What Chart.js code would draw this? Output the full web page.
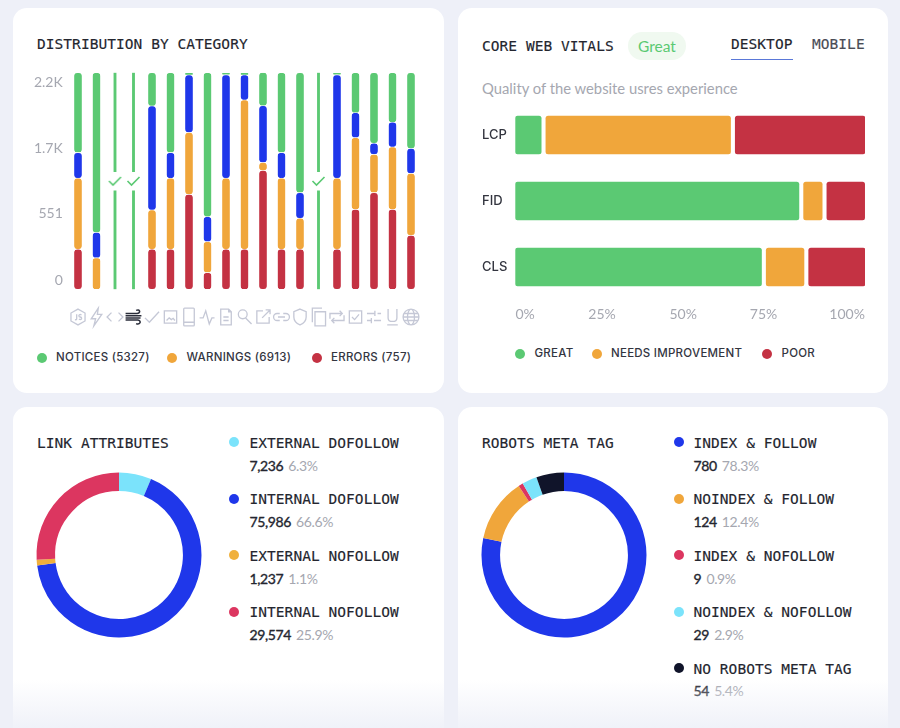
<!DOCTYPE html>
<html>
<head>
<meta charset="utf-8">
<script src="https://cdn.jsdelivr.net/npm/chart.js@4"></script>
<style>
html, body { margin: 0; padding: 0; }
body { width: 900px; height: 728px; overflow: hidden; position: relative; background: #eef0f8; font-family: Lato, sans-serif; }
.card { position: absolute; background: #fff; border-radius: 14px; }
canvas { position: absolute; }
.abs { position: absolute; white-space: nowrap; line-height: 1; }
.mono { font-family: "DejaVu Sans Mono", monospace; font-size: 14.5px; letter-spacing: 0.05px; -webkit-text-stroke: 0.15px; color: #24262f; transform: translateY(-50%); }
.dot { position: absolute; border-radius: 50%; width: 10px; height: 10px; transform: translate(-50%, -50%); }
.small { font-family: Inter, sans-serif; font-size: 11.5px; font-weight: 500; letter-spacing: 0.25px; color: #33353f; transform: translateY(-50%); }
.num { font-size: 14px; letter-spacing: -0.4px; -webkit-text-stroke: 0.35px; color: #24262f; transform: translateY(-50%); }
.num span { color: #a5a7b0; -webkit-text-stroke: 0; margin-left: 2px; }
#fade { position: absolute; left: 0; top: 680px; width: 900px; height: 48px; background: linear-gradient(rgba(238,240,248,0), rgba(238,240,248,0.9)); }
</style>
</head>
<body>
<div class="card" style="left:13px;top:8px;width:431px;height:385px"></div>
<div class="card" style="left:458px;top:8px;width:430px;height:385px"></div>
<div class="card" style="left:13px;top:407px;width:431px;height:340px"></div>
<div class="card" style="left:458px;top:407px;width:430px;height:340px"></div>

<div class="abs mono" style="left:37px;top:43.5px">DISTRIBUTION BY CATEGORY</div>
<div class="abs mono" style="left:482px;top:46px">CORE WEB VITALS</div>
<div class="abs" style="left:628px;top:31.5px;width:58px;height:28px;border-radius:14px;background:#f0f9f0;color:#5bc973;font-size:15.5px;line-height:28px;text-align:center">Great</div>
<div class="abs mono" style="left:731px;top:43.5px">DESKTOP</div>
<div class="abs mono" style="left:812px;top:43.5px;color:#4a4c56">MOBILE</div>
<div class="abs" style="left:731px;top:59px;width:62px;height:1px;background:#5a78d8"></div>
<div class="abs" style="left:482px;top:88px;font-size:14.8px;color:#a5a7b0;transform:translateY(-50%)">Quality of the website usres experience</div>
<div class="abs mono" style="left:37px;top:443px">LINK ATTRIBUTES</div>
<div class="abs mono" style="left:482px;top:443px">ROBOTS META TAG</div>

<canvas id="categoryChart" width="431" height="280" style="left:13px;top:60px"></canvas>
<canvas id="vitalsChart" width="430" height="250" style="left:458px;top:90px"></canvas>
<canvas id="linksChart" width="170" height="170" style="left:34px;top:470px"></canvas>
<canvas id="robotsChart" width="170" height="170" style="left:479px;top:470px"></canvas>
<div id="legends"></div>
<div id="fade"></div>

<script>
// column heights as share of the plot height
const CATEGORY_TICKS = ["0", "551", "1.7K", "2.2K"];
const CATEGORY_TICK_POS = [4.3, 34.8, 65.2, 95.7];
const ERRORS =   [18.5, 0, 0, 0, 18.5, 18.5, 43.8, 7.7, 18.5, 18.5, 54.8, 18.5, 18.5, 0, 18.5, 36.9, 44.6, 36.9, 24.9];
const WARNINGS = [32.8, 14.5, 0, 0, 18.1, 32.8, 28.6, 14.3, 32.8, 68.9, 3.7, 32.8, 14.3, 0, 32.8, 33.1, 17.7, 28.8, 28.6];
const OTHERS =   [11.8, 11.7, 0, 0, 48, 11.8, 26.5, 11.5, 47.7, 11.5, 26.2, 11.8, 11.8, 0, 47.7, 11.5, 5.1, 11.4, 11.5];
const NOTICES =  [36.9, 73.8, 0, 0, 15.4, 36.9, 1.1, 66.5, 1, 1.1, 15.4, 36.9, 55.4, 0, 1, 18.5, 32.6, 22.9, 35];
const PASSED_COLUMNS = [2, 3, 13];
const PASSED_LOWER = [0, 45.5];
const PASSED_UPPER = [54.3, 100];
const PASSED_MARK = 50;
const CATEGORY_LEGEND = [["NOTICES (5327)", 41.7, 56, "#5bc973"], ["WARNINGS (6913)", 172, 186.5, "#f0a63b"], ["ERRORS (757)", 316.7, 331, "#c43243"]];

const VITALS = ["LCP", "FID", "CLS"];
const VITALS_GREAT = [7.4, 81.1, 70.4];
const VITALS_NEEDS = [52.8, 5.3, 10.8];
const VITALS_POOR = [37.1, 10.8, 16.2];
const VITALS_TICKS = ["0%", "25%", "50%", "75%", "100%"];
const VITALS_TICK_POS = [2.8, 24.8, 48, 71, 94.9];
const VITALS_LEGEND = [["GREAT", 520, 534.5, "#5bc973"], ["NEEDS IMPROVEMENT", 596.7, 611, "#f0a63b"], ["POOR", 767, 781.5, "#c43243"]];

const LINK_LABELS = ["EXTERNAL DOFOLLOW", "INTERNAL DOFOLLOW", "EXTERNAL NOFOLLOW", "INTERNAL NOFOLLOW"];
const LINK_VALUES = [7236, 75986, 1237, 29574];
const LINK_SHARES = ["6.3%", "66.6%", "1.1%", "25.9%"];
const LINK_COLORS = ["#7be3fb", "#1f37ea", "#f0b03c", "#dc3660"];

const ROBOT_LABELS = ["INDEX & FOLLOW", "NOINDEX & FOLLOW", "INDEX & NOFOLLOW", "NOINDEX & NOFOLLOW", "NO ROBOTS META TAG"];
const ROBOT_VALUES = [780, 124, 9, 29, 54];
const ROBOT_SHARES = ["78.3%", "12.4%", "0.9%", "2.9%", "5.4%"];
const ROBOT_COLORS = ["#1f37ea", "#f0a63b", "#dc3660", "#7be3fb", "#10142a"];

const ICONS = [
    "M0-9L8-4.5V4.5L0 9L-8 4.5V-4.5Z M-1.5-3V2Q-1.5 3.5-3.5 3 M4-2.5Q1.5-3.5 1-1.5Q1 0 2.5 0Q4.5 .5 4 2Q3 3.5 1 2.5",
    "M2-10L-6 2H-1L-3 10L6-3H1Z",
    "M-4-5L-9 0L-4 5 M4-5L9 0L4 5",
    "M-9-4H4Q7-4 7-6.500Q6-9 3-7.500 M-9-1.500H9 M-9 1H8 M-9 3.500H5Q8 4 7.500 6.500Q6 9 3 7.500",
    "M-8 1L-3 6L8-6",
    "M-7-7H7V7H-7Z M-4.500 4L-1.500 1L1 3L3 1.500L5 4",
    "M-5-10H5Q6-10 6-9V9Q6 10 5 10H-5Q-6 10-6 9V-9Q-6-10-5-10Z M-6 6H6",
    "M-9 1H-5L-2-7L2 8L5 1H8",
    "M-6-9H3L6-6V9H-6Z M3-9V-6H6 M-3 0H3 M-3 4H3",
    "M3-3A5 5 0 1 1-7-3A5 5 0 1 1 3-3 M1.500 1.500L8 8",
    "M0-7H-7V7H7V0 M-1 1L8-8 M3-8H8V-3",
    "M-2-4H-5A4 4 0 0 0-5 4H-2 M2-4H5A4 4 0 0 1 5 4H2 M-4 0H4",
    "M0-9L7-6V0Q7 6 0 9Q-7 6-7 0V-6Z",
    "M-7 6V-10H4 M-4-6H8V10H-4Z",
    "M-8 2V-4H6 M3-7L6-4L3-1 M8-2V4H-6 M-3 7L-6 4L-3 1",
    "M-7-7H7V7H-7Z M-4 0L-1 3L4-3",
    "M-8-4H1 M4-4H8 M1-7V-1 M-8 4H-3 M0 4H8 M-3 1V7",
    "M-5-9V1Q-5 5 0 5Q5 5 5 1V-9 M-6 9H6",
    "M9 0A9 9 0 1 1-9 0A9 9 0 1 1 9 0 M4 0A4 9 0 1 1-4 0A4 9 0 1 1 4 0 M-9 0H9 M-8-4H8 M-8 4H8"
];
const DARK_ICON = 3;

const TICK_FONT = { family: "Lato, sans-serif", size: 14 };
const TICK_COLOR = "#a5a7b0";

const makeCheckMark = () => {
    const mark = document.createElement("canvas");
    mark.width = 15;
    mark.height = 12;
    const ctx = mark.getContext("2d");
    ctx.strokeStyle = "#5bc973";
    ctx.lineWidth = 1.6;
    ctx.beginPath();
    ctx.moveTo(1.5, 6);
    ctx.lineTo(5.5, 10);
    ctx.lineTo(13.5, 2);
    ctx.stroke();
    return mark;
}

// floating bars, so every segment keeps its own rounded ends
const floatSegments = (layers, index) => {
    return ERRORS.map((_, col) => {
        let start = 0;
        for (let i = 0; i < index; i += 1) start += layers[i][col];
        let height = layers[index][col];
        return height > 0 ? [start, start + height] : null;
    })
}

const categoryLayers = [ERRORS, WARNINGS, OTHERS, NOTICES];
const categoryColors = ["#c43243", "#f0a63b", "#1f37ea", "#5bc973"];
const categoryNames = ["Errors", "Warnings", "Others", "Notices"];

const passedData = (range) => ERRORS.map((_, col) => PASSED_COLUMNS.includes(col) ? range : null);

const iconRow = {
    id: "iconRow",
    afterDraw(chart) {
        const ctx = chart.ctx;
        ICONS.forEach((path, i) => {
            ctx.save();
            ctx.translate(chart.scales.x.getPixelForValue(i), 257);
            ctx.scale(0.88, 0.88);
            ctx.lineWidth = i == DARK_ICON ? 1.7 : 1.5;
            ctx.strokeStyle = i == DARK_ICON ? "#2a2d3a" : "#c5c8d6";
            ctx.stroke(new Path2D(path));
            ctx.restore();
        });
    }
}

new Chart(document.getElementById("categoryChart"), {
    data: {
        labels: ERRORS.map((_, i) => i + 1),
        datasets: [
            ...categoryLayers.map((layer, i) => ({
                type: "bar",
                label: categoryNames[i],
                data: floatSegments(categoryLayers, i),
                backgroundColor: categoryColors[i],
                borderColor: "#fff",
                borderWidth: { top: 0.6, bottom: 0.6, left: 0, right: 0 },
                borderSkipped: false,
                borderRadius: 3.7,
                barThickness: 7.6
            })),
            { type: "bar", label: "Passed", data: passedData(PASSED_LOWER), backgroundColor: "#5bc973", barThickness: 2.2, borderSkipped: false },
            { type: "bar", label: "Passed", data: passedData(PASSED_UPPER), backgroundColor: "#5bc973", barThickness: 2.2, borderSkipped: false },
            {
                type: "line",
                label: "Passed",
                data: ERRORS.map((_, col) => PASSED_COLUMNS.includes(col) ? PASSED_MARK : null),
                showLine: false,
                pointStyle: makeCheckMark(),
                pointRadius: 7
            }
        ]
    },
    options: {
        responsive: false,
        animation: false,
        layout: { padding: { left: 0, right: 23.75, top: 12.7, bottom: 50.7 } },
        datasets: { bar: { grouped: false } },
        plugins: { legend: { display: false }, tooltip: { enabled: false } },
        scales: {
            x: { display: false },
            y: {
                min: 0,
                max: 100,
                border: { display: false },
                grid: { display: false, drawTicks: false },
                afterFit: (scale) => { scale.width = 55.75; scale.paddingTop = 0; scale.paddingBottom = 0 },
                afterBuildTicks: (scale) => { scale.ticks = CATEGORY_TICK_POS.map((value) => ({ value })) },
                ticks: {
                    autoSkip: false,
                    padding: 6,
                    color: TICK_COLOR,
                    font: TICK_FONT,
                    callback: (value, index) => CATEGORY_TICKS[index]
                }
            }
        }
    },
    plugins: [iconRow]
});

const VITALS_GAP = 1.35;
const vitalsLayers = [VITALS_GREAT, VITALS_NEEDS, VITALS_POOR];
const vitalsSegments = (index) => VITALS.map((_, row) => {
    let start = index * VITALS_GAP;
    for (let i = 0; i < index; i += 1) start += vitalsLayers[i][row];
    return [start, start + vitalsLayers[index][row]];
})

new Chart(document.getElementById("vitalsChart"), {
    type: "bar",
    data: {
        labels: VITALS,
        datasets: ["Great", "Needs improvement", "Poor"].map((label, i) => ({
            label,
            data: vitalsSegments(i),
            backgroundColor: ["#5bc973", "#f0a63b", "#c43243"][i],
            borderSkipped: false,
            borderRadius: 2.5,
            barThickness: 37.7
        }))
    },
    options: {
        indexAxis: "y",
        responsive: false,
        animation: false,
        layout: { padding: { left: 24, right: 23, top: 12, bottom: 0 } },
        datasets: { bar: { grouped: false } },
        plugins: { legend: { display: false }, tooltip: { enabled: false } },
        scales: {
            x: {
                min: 0,
                max: 100,
                border: { display: false },
                grid: { display: false, drawTicks: false },
                afterFit: (scale) => { scale.height = 40 },
                afterBuildTicks: (scale) => { scale.ticks = VITALS_TICK_POS.map((value) => ({ value })) },
                ticks: {
                    autoSkip: false,
                    maxRotation: 0,
                    padding: 6,
                    color: TICK_COLOR,
                    font: TICK_FONT,
                    callback: (value, index) => VITALS_TICKS[index]
                }
            },
            y: {
                border: { display: false },
                grid: { display: false, drawTicks: false },
                afterFit: (scale) => { scale.width = 33.3 },
                ticks: {
                    crossAlign: "far",
                    padding: 0,
                    color: "#33353f",
                    font: { family: "Inter, sans-serif", size: 13, weight: "500" }
                }
            }
        }
    }
});

const makeDonut = (id, labels, values, colors) => {
    new Chart(document.getElementById(id), {
        type: "doughnut",
        data: { labels, datasets: [{ data: values, backgroundColor: colors, borderWidth: 0 }] },
        options: {
            responsive: false,
            animation: false,
            radius: 82.5,
            cutout: "77.5%",
            plugins: { legend: { display: false }, tooltip: { enabled: false } }
        }
    });
}
makeDonut("linksChart", LINK_LABELS, LINK_VALUES, LINK_COLORS);
makeDonut("robotsChart", ROBOT_LABELS, ROBOT_VALUES, ROBOT_COLORS);

// html legends
const legends = document.getElementById("legends");
const addEl = (className, text, style) => {
    const el = document.createElement("div");
    el.className = className;
    el.style.cssText = style;
    el.innerHTML = text;
    legends.appendChild(el);
}

const addRowLegend = (items, y) => {
    items.forEach(([text, dotX, textX, color]) => {
        addEl("dot", "", `left:${dotX}px;top:${y}px;background:${color}`);
        addEl("abs small", text, `left:${textX}px;top:${y}px`);
    });
}
addRowLegend(CATEGORY_LEGEND, 357.7);
addRowLegend(VITALS_LEGEND, 354);

const addDonutLegend = (labels, values, shares, colors, dotX, textX) => {
    labels.forEach((label, i) => {
        let y = 443 + i * 56.4;
        addEl("dot", "", `left:${dotX}px;top:${y - 0.7}px;background:${colors[i]}`);
        addEl("abs mono", label.replace("&", "&amp;"), `left:${textX}px;top:${y}px`);
        addEl("abs num", `${values[i].toLocaleString("en-US")} <span>${shares[i]}</span>`, `left:${textX}px;top:${y + 22.7}px`);
    });
}
addDonutLegend(LINK_LABELS, LINK_VALUES, LINK_SHARES, LINK_COLORS, 234.3, 249.5);
addDonutLegend(ROBOT_LABELS, ROBOT_VALUES, ROBOT_SHARES, ROBOT_COLORS, 679, 693.5);
</script>
</body>
</html>
